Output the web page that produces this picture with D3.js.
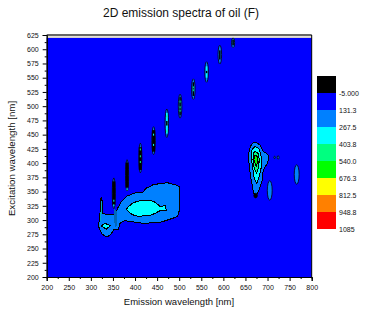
<!DOCTYPE html>
<html>
<head>
<meta charset="utf-8">
<script src="https://d3js.org/d3.v7.min.js"></script>
<style>
  html, body { margin: 0; padding: 0; background: #fff; }
  svg { display: block; }
  text { font-family: "Liberation Sans", Arial, sans-serif; fill: #111; }
  .domain { stroke: #000; }
  .tick line { stroke: #000; }
</style>
</head>
<body>
<svg id="chart" width="367" height="315"></svg>
<script>
// contour levels (legend, top to bottom)
const levelLabels = ['-5.000', '131.3', '267.5', '403.8', '540.0', '676.3', '812.5', '948.8', '1085'];
const levelColors = ['#000000', '#0000ff', '#0080ff', '#00ffff', '#00ff80', '#00ff00', '#ffff00', '#ff8000', '#ff0000'];

const xTicks = d3.range(200, 801, 50);
const yTicks = d3.range(200, 626, 25);

// contour outlines: [emission, excitation]
const bandOutline = [[316,291],[320,300],[321,317],[321,335],[323.5,339.5],[326,332],[327,312],[337,309],[348,309],[355,309],[360,320],[365,327],[368,332],[375,337],[382,342],[391,345],[401,348],[410,348],[418,349],[423,354],[427,357],[435,359],[442,363],[448,362],[455,365],[465,364],[472,366],[480,364],[491,362],[500,359],[501.5,340],[501.5,320],[496,306],[485,303],[473,300],[462,297],[450,295],[435,295],[420,294],[405,296],[393,297],[384,298],[376,299],[370,296],[365,294],[363,284],[352,283],[344,274],[338,271],[333,271],[325,276],[320,284]];
const bandCore = [[380,319],[386,324],[393,329],[402,332],[412,334],[422,335],[431,335],[440,333],[446,331],[452,327],[458,323],[469,326],[470.5,317],[458,317],[446,312],[437,309],[427,308],[415,307],[404.5,307],[396,309],[389,312]];
const lowSpot = [[323.5,290],[332.5,294],[344,290],[335,284]];
const spikeCore = [[323,332],[324.5,332],[324,305],[322,297],[321,300]];
const shoulder = [[352,320],[358,316],[360,290],[354,288]];
const peakOuter = [[672,436.5],[677,435],[683,432],[687,426],[690.5,420],[696,418],[702,414],[702,407],[700,400],[695,394],[690.5,388],[689,379],[688,370],[684,360],[679,350],[673,340],[670,345],[668,350],[665,362],[662.5,373],[660,386],[658,400],[658,410],[658,420],[660,426],[662.5,431],[667,435]];
const peakMid = [[672,429],[677,427],[681,425],[685,414],[687,405],[687,397],[684,386],[681,376],[675.5,364.5],[670,373],[666,394],[662.5,414],[665.5,425]];
const peakInner = [[672,421],[679,417],[681.5,405.5],[679,391],[675.5,382],[670,391],[667,405.5],[668,417]];
const peakTop = [[672,414],[677.5,411],[678.5,403],[674.5,394],[671.5,400],[669,407]];

// the scatter line streaks: centre emission, excitation range, half width
const streakEm = [352, 382, 412, 442, 472, 502, 532, 562, 592, 622];
const streakLow = [320, 351, 383, 415, 445, 479, 512, 542, 574, 603];
const streakHigh = [374, 406, 435, 464, 495, 521, 548, 578, 607, 620];
const streakHalf = [3.5, 3.5, 3.5, 4, 4, 4, 4, 4, 4, 3.5];

// cores inside the streaks: streak index, excitation range, level index
const coreStreak = [0, 1, 2, 3, 4, 4, 5, 6, 7, 7, 8, 9];
const coreLow = [326, 357, 388, 420, 452, 466, 484, 518, 550, 558, 582, 607];
const coreHigh = [368, 401, 428, 458, 488, 474, 516, 542, 570, 562, 598, 617];
const coreLevel = [0, 0, 0, 0, 3, 0, 0, 0, 3, 0, 0, 0];

// bright specks on the dark cores: streak index, excitation, level index
const fleckStreak = [0, 0, 1, 2, 2, 2, 3, 3, 4, 4, 5, 5, 5, 6, 6];
const fleckEx = [326, 334, 354, 402, 412, 424, 432, 450, 456, 482, 492, 498, 508, 528, 533];
const fleckLevel = [3, 3, 3, 4, 4, 4, 3, 3, 4, 4, 4, 4, 4, 4, 4];

// separate little islands
const spotEm = [705, 766, 716, 724, 673];
const spotEx = [352, 380, 410, 410, 343];
const spotHalfEm = [5.5, 5.5, 1.5, 2, 4];
const spotHalfEx = [17, 17, 2, 3, 4];
const spotLevel = [2, 2, 2, 2, 0];

const svg = d3.select('#chart');
const plotLeft = 46.7, plotRight = 311.7, plotTop = 35, plotBottom = 277;

const x = d3.scaleLinear().domain([200, 800]).range([plotLeft, plotRight]);
const y = d3.scaleLinear().domain([200, 625]).range([plotBottom, plotTop]);

// plot background
svg.append('rect')
  .attr('x', x(200)).attr('y', y(620))
  .attr('width', x(800) - x(200)).attr('height', y(200) - y(620))
  .attr('fill', levelColors[1]);

const line = d3.line().x(d => x(d[0])).y(d => y(d[1])).curve(d3.curveLinearClosed);
const g = svg.append('g').attr('shape-rendering', 'crispEdges');

function region(points, level) {
  g.append('path').attr('d', line(points))
    .attr('fill', levelColors[level])
    .attr('stroke', '#000').attr('stroke-width', 1);
}

region(bandOutline, 2);
region(bandCore, 3);
region(lowSpot, 3);
g.append('path').attr('d', line(spikeCore)).attr('fill', '#00b0c0');
g.append('path').attr('d', line(shoulder)).attr('fill', '#0068b8');

region(peakOuter, 2);
region(peakMid, 3);
region(peakInner, 4);
region(peakTop, 5);

// streaks
const gs = svg.append('g');
gs.selectAll('ellipse.streak').data(streakEm).join('ellipse')
  .attr('class', 'streak')
  .attr('cx', d => x(d))
  .attr('cy', (d, i) => y((streakLow[i] + streakHigh[i]) / 2))
  .attr('rx', (d, i) => x(d + streakHalf[i]) - x(d))
  .attr('ry', (d, i) => y(streakLow[i]) - y((streakLow[i] + streakHigh[i]) / 2))
  .attr('fill', levelColors[2])
  .attr('stroke', '#000').attr('stroke-width', 0.8);

gs.selectAll('rect.core').data(coreStreak).join('rect')
  .attr('class', 'core')
  .attr('x', d => x(streakEm[d]) - (d < 4 ? 1.5 : 0.75))
  .attr('y', (d, i) => y(coreHigh[i]))
  .attr('width', d => d < 4 ? 3 : 1.5)
  .attr('height', (d, i) => y(coreLow[i]) - y(coreHigh[i]))
  .attr('fill', (d, i) => levelColors[coreLevel[i]]);

gs.selectAll('rect.fleck').data(fleckStreak).join('rect')
  .attr('class', 'fleck')
  .attr('x', d => x(streakEm[d]) - 0.5)
  .attr('y', (d, i) => y(fleckEx[i]) - 1)
  .attr('width', 1)
  .attr('height', 2)
  .attr('fill', (d, i) => levelColors[fleckLevel[i]]);

gs.selectAll('ellipse.spot').data(spotEm).join('ellipse')
  .attr('class', 'spot')
  .attr('cx', d => x(d))
  .attr('cy', (d, i) => y(spotEx[i]))
  .attr('rx', (d, i) => x(d + spotHalfEm[i]) - x(d))
  .attr('ry', (d, i) => y(spotEx[i] - spotHalfEx[i]) - y(spotEx[i]))
  .attr('fill', (d, i) => levelColors[spotLevel[i]])
  .attr('stroke', '#000').attr('stroke-width', 0.8);

// top border: dark line and the lighter one under it
svg.append('line').attr('x1', x(200)).attr('x2', x(800)).attr('y1', y(625)).attr('y2', y(625))
  .attr('stroke', '#666').attr('stroke-width', 2);
svg.append('line').attr('x1', x(200)).attr('x2', x(800)).attr('y1', y(625) + 2).attr('y2', y(625) + 2)
  .attr('stroke', '#c8c0a8').attr('stroke-width', 1);
svg.append('line').attr('x1', x(800)).attr('x2', x(800)).attr('y1', y(625)).attr('y2', y(200))
  .attr('stroke', '#000').attr('stroke-width', 1);

// axes
const xAxis = d3.axisBottom(x).tickValues(xTicks).tickSize(4).tickPadding(4).tickFormat(d3.format('d'));
const xMinor = d3.axisBottom(x).tickValues(d3.range(225, 800, 50)).tickSize(2).tickFormat('');
const yAxis = d3.axisLeft(y).tickValues(yTicks).tickSize(4).tickPadding(4).tickFormat(d3.format('d'));
const yMinor = d3.axisLeft(y).tickValues(d3.range(212.5, 625, 25)).tickSize(2).tickFormat('');

const gx = svg.append('g').attr('transform', `translate(0,${plotBottom})`);
gx.call(xMinor);
gx.append('g').call(xAxis);
const gy = svg.append('g').attr('transform', `translate(${plotLeft},0)`);
gy.call(yMinor);
gy.append('g').call(yAxis);
svg.selectAll('.tick text').attr('font-size', 7).style('fill', '#111');

// titles
svg.append('text').attr('x', 181).attr('y', 17).attr('text-anchor', 'middle')
  .attr('font-size', 12).text('2D emission spectra of oil (F)');
svg.append('text').attr('x', 179).attr('y', 305).attr('text-anchor', 'middle')
  .attr('font-size', 9.5).text('Emission wavelength [nm]');
svg.append('text').attr('transform', `translate(15,158.5) rotate(-90)`).attr('text-anchor', 'middle')
  .attr('font-size', 9.7).text('Excitation wavelength [nm]');

// legend
const legendY = d3.scaleBand().domain(levelLabels).range([76, 229]);
const legend = svg.append('g');
legend.selectAll('rect').data(levelLabels).join('rect')
  .attr('x', 317).attr('width', 19)
  .attr('y', d => legendY(d)).attr('height', legendY.bandwidth())
  .attr('fill', (d, i) => levelColors[i]);
legend.selectAll('text').data(levelLabels).join('text')
  .attr('x', 339)
  .attr('y', d => legendY(d) + legendY.bandwidth() + 3)
  .attr('font-size', 7)
  .text(d => d);
</script>
</body>
</html>
